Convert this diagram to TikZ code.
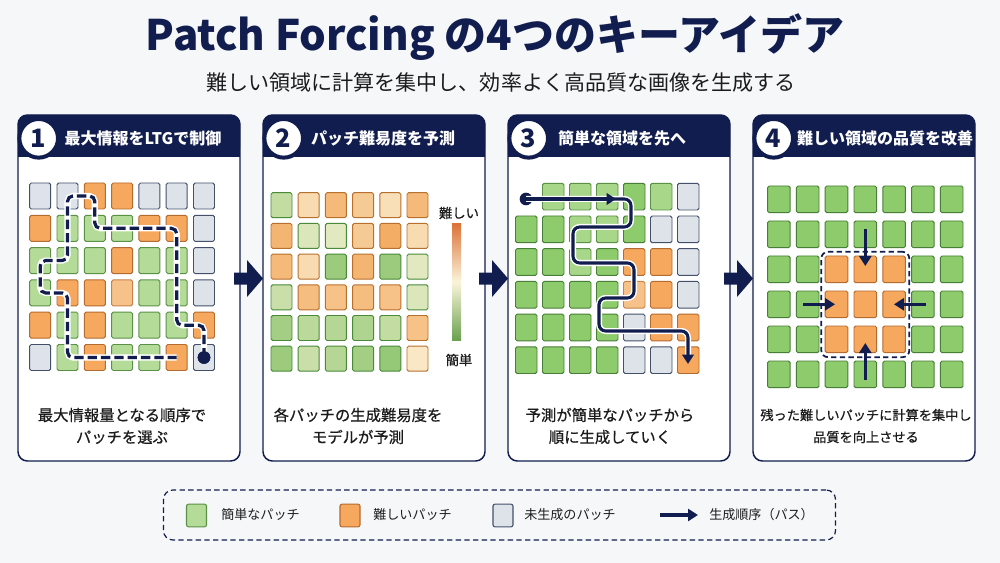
\documentclass[tikz,border=0pt]{standalone}
\usepackage{fontspec}
\setmainfont{Noto Sans CJK JP}
\newfontfamily\medfont{Noto Sans CJK JP}[FakeBold=0.6]
\usetikzlibrary{arrows.meta}
\definecolor{navy}{HTML}{111D4E}
\definecolor{bgc}{HTML}{F6F7F9}
\definecolor{txt}{HTML}{1C1C1C}
% cell colours
\definecolor{fG}{HTML}{B4DC98}\definecolor{bG}{HTML}{5B9147}
\definecolor{fM}{HTML}{8ECB6C}\definecolor{bM}{HTML}{487F36}
\definecolor{fL}{HTML}{A8D78A}\definecolor{bL}{HTML}{5A9146}
\definecolor{fO}{HTML}{F6A85E}\definecolor{bO}{HTML}{B46B30}
\definecolor{fP}{HTML}{F7C28A}\definecolor{bP}{HTML}{C4834A}
\definecolor{fR}{HTML}{DEE3EA}\definecolor{bR}{HTML}{44506A}
\definecolor{fN}{HTML}{FFFFFF}\definecolor{bN}{HTML}{FFFFFF}
% gradient colours (panel 2)
\definecolor{eA}{HTML}{7DBE5E}\definecolor{eB}{HTML}{4A8A3A}
\definecolor{hA}{HTML}{F2A050}\definecolor{hB}{HTML}{B8702F}
\definecolor{cr}{HTML}{FBF4DA}
\begin{document}
\begin{tikzpicture}[x=0.75pt,y=-0.75pt,
  panelbox/.style={draw=navy, line width=1.1pt, fill=white, rounded corners=7pt},
  numc/.style={circle, draw=navy, line width=3pt, fill=white, minimum size=29pt, inner sep=0pt, text=navy, font=\bfseries\fontsize{19}{19}\selectfont},
  hdrtxt/.style={text=white, font=\bfseries\fontsize{12}{13}\selectfont, inner sep=0pt},
  bodytxt/.style={text=txt, font=\medfont\fontsize{11.5}{16.5}\selectfont, align=center, inner sep=0pt},
  cellbase/.style={line width=0.7pt, rounded corners=1.2pt},
  navarrow/.style={navy, line width=2.3pt, -{Triangle[length=7pt,width=8.5pt]}},
  bigarrow/.style={navy, line width=2.7pt, -{Triangle[length=7.5pt,width=9pt]}},
  legtxt/.style={text=txt, font=\fontsize{9.8}{12}\selectfont, anchor=west, inner sep=0pt},
  legsq/.style={draw, line width=0.8pt, rounded corners=1.5pt, minimum width=15pt, minimum height=17pt, inner sep=0pt},
  dotnode/.style={circle, fill=navy, inner sep=0pt, minimum size=9.5pt}
]
\useasboundingbox (0,0) rectangle (1000,563);
\fill[bgc] (0,0) rectangle (1000,563);

% title
\node[text=navy, font=\bfseries\fontsize{31.5}{33}\selectfont] (title) at (495,37) {Patch Forcing の4つのキーアイデア};
\node[text=txt, font=\fontsize{15.8}{18}\selectfont] (subtitle) at (501,83) {難しい領域に計算を集中し、効率よく高品質な画像を生成する};

% panels
\foreach \k in {0,1,2,3} {
  \pgfmathsetmacro\L{18+245*\k}
  \draw[panelbox] (\L,115) rectangle ({\L+222},461);
  \fill[navy, rounded corners=7pt] (\L,115) rectangle ({\L+222},157);
  \fill[navy] (\L,135) rectangle ({\L+222},157);
}
% arrows between panels
\foreach \k in {0,1,2} {
  \pgfmathsetmacro\A{234+245*\k}
  \fill[navy] (\A,272.5) -- ++(13,0) -- ++(0,-12.5) -- ++(16,18.5) -- ++(-16,18.5) -- ++(0,-12.5) -- ++(-13,0) -- cycle;
}

% headers
\node[numc] (n1) at (38.7,138.3) {1};
\node[numc] (n2) at (283.7,138.3) {2};
\node[numc] (n3) at (528.7,138.3) {3};
\node[numc] (n4) at (773.7,138.3) {4};
\node[hdrtxt] (h1) at (143,138) {最大情報をLTGで制御};
\node[hdrtxt] (h2) at (383,138) {パッチ難易度を予測};
\node[hdrtxt] (h3) at (622,138) {簡単な領域を先へ};
\node[hdrtxt] (h4) at (885,138) {難しい領域の品質を改善};

% ---------- panel 1 grid ----------
\foreach \row [count=\j from 0] in {{R,R,O,O,R,R,R},{O,G,G,G,O,O,R},{G,G,G,O,G,G,R},{G,O,O,P,G,G,R},{O,G,O,G,G,G,O},{R,G,O,G,G,O,R}} {
  \foreach \c [count=\i from 0] in \row {
    \draw[cellbase, fill=f\c, draw=b\c] ({29.7+\i*27.3},{183+\j*32.3}) rectangle ++(21,26);
  }
}
\node[dotnode] (dot1) at (204,357.5) {};
\draw[white, line width=4.6pt, rounded corners=4pt] (dot1.center) -- (204,325.2) -- (176.7,325.2) -- (176.7,228.3) -- (94.8,228.3) -- (94.8,196) -- (67.5,196) -- (67.5,260.6) -- (40.2,260.6) -- (40.2,292.9) -- (67.5,292.9) -- (67.5,357.5) -- (176.7,357.5);
\draw[navy, line width=2.4pt, dash pattern=on 7pt off 3pt, rounded corners=4pt] (dot1.center) -- (204,325.2) -- (176.7,325.2) -- (176.7,228.3) -- (94.8,228.3) -- (94.8,196) -- (67.5,196) -- (67.5,260.6) -- (40.2,260.6) -- (40.2,292.9) -- (67.5,292.9) -- (67.5,357.5) -- (176.7,357.5);
\node[dotnode] at (dot1.center) {};
\node[bodytxt] (t1) at (122,426) {最大情報量となる順序で\\パッチを選ぶ};

% ---------- panel 2 grid ----------
\foreach \row [count=\j from 0] in {
  {e/45,h/30,h/70,h/50,h/25,h/70},
  {h/75,e/25,e/20,h/50,h/85,h/30},
  {h/70,h/30,e/75,h/75,e/75,e/20},
  {e/40,h/65,h/60,h/65,h/60,e/25},
  {e/70,e/50,e/55,e/60,e/45,h/60},
  {e/75,e/40,e/55,e/70,e/80,h/15}} {
  \foreach \t/\v [count=\i from 0] in \row {
    \draw[cellbase, fill=\t A!\v!cr, draw=\t B] ({271+\i*27.2},{192.7+\j*30.7}) rectangle ++(21,25);
  }
}
\shade[top color=hA!80!red!90!black, bottom color=eA!85!black, middle color=cr] (452,224) rectangle (461,340);
\node[text=txt, font=\medfont\fontsize{10}{12}\selectfont] (hard) at (459,213) {難しい};
\node[text=txt, font=\medfont\fontsize{10}{12}\selectfont] (easy) at (459,360) {簡単};
\node[bodytxt] (t2) at (358,426) {各パッチの生成難易度を\\モデルが予測};

% ---------- panel 3 grid ----------
\foreach \row [count=\j from 0] in {{N,L,L,L,M,L,R},{M,M,L,L,M,R,R},{M,M,L,M,O,O,R},{M,M,M,M,P,O,R},{M,M,M,M,R,O,O},{M,M,M,M,R,R,O}} {
  \foreach \c [count=\i from 0] in \row {
    \draw[cellbase, fill=f\c, draw=b\c] ({515.5+\i*27},{183.3+\j*32.7}) rectangle ++(21.5,26.7);
  }
}
\node[dotnode] (dot3) at (526,199) {};
\coordinate (p3end) at (688,364);
\coordinate (p3mid) at (616,199);
\draw[white, line width=4.5pt, rounded corners=5pt] (dot3.center) -- (631,199) -- (631,227) -- (573,227) -- (573,263) -- (634,263) -- (634,298) -- (599,298) -- (599,331) -- (688,331) -- (688,358);
\draw[navarrow, rounded corners=5pt] (dot3.center) -- (631,199) -- (631,227) -- (573,227) -- (573,263) -- (634,263) -- (634,298) -- (599,298) -- (599,331) -- (688,331) -- (p3end);
\draw[navarrow] (dot3.center) -- (p3mid);
\node[bodytxt] (t3) at (610,426) {予測が簡単なパッチから\\順に生成していく};

% ---------- panel 4 grid ----------
\foreach \row [count=\j from 0] in {{M,M,M,M,M,M,M},{M,M,M,M,M,M,M},{M,M,O,O,O,M,M},{M,M,O,O,O,M,M},{M,M,O,O,O,M,M},{M,M,M,M,M,M,M}} {
  \foreach \c [count=\i from 0] in \row {
    \draw[cellbase, fill=f\c, draw=b\c] ({767.6+\i*28.8},{186+\j*35}) rectangle ++(22.6,26.7);
  }
}
\node[draw=navy, line width=1.3pt, dash pattern=on 4pt off 2.5pt, rounded corners=5pt, minimum width=66pt, minimum height=79pt, inner sep=0pt] (focus) at (865.3,304.5) {};
\coordinate (a1s) at (865.3,229); \coordinate (a1e) at (865.3,266);
\coordinate (a2s) at (865.3,380); \coordinate (a2e) at (865.3,343);
\coordinate (a3s) at (803,304.3); \coordinate (a3e) at (835,304.3);
\coordinate (a4s) at (926,304.3); \coordinate (a4e) at (894,304.3);
\draw[bigarrow] (a1s) -- (a1e);
\draw[bigarrow] (a2s) -- (a2e);
\draw[bigarrow] (a3s) -- (a3e);
\draw[bigarrow] (a4s) -- (a4e);
\node[bodytxt, font=\medfont\fontsize{9.9}{16.5}\selectfont] (t4) at (866,426) {残った難しいパッチに計算を集中し\\品質を向上させる};

% ---------- legend ----------
\node[draw=navy, line width=0.9pt, dash pattern=on 4pt off 2.5pt, rounded corners=7pt, minimum width=504pt, minimum height=37.5pt, inner sep=0pt] (legend) at (499.5,515) {};
\node[legsq, fill=fG, draw=bG] (lg1) at (196.5,515.5) {};
\node[legtxt] (lt1) at (221,515) {簡単なパッチ};
\node[legsq, fill=fO, draw=bO] (lg2) at (350,515.5) {};
\node[legtxt] (lt2) at (373,515) {難しいパッチ};
\node[legsq, fill=fR, draw=bR] (lg3) at (503,515.5) {};
\node[legtxt] (lt3) at (524,515) {未生成のパッチ};
\coordinate (la1) at (660,515); \coordinate (la2) at (698,515);
\draw[bigarrow] (la1) -- (la2);
\node[legtxt] (lt4) at (709,515) {生成順序（パス）};
\end{tikzpicture}
\end{document}
